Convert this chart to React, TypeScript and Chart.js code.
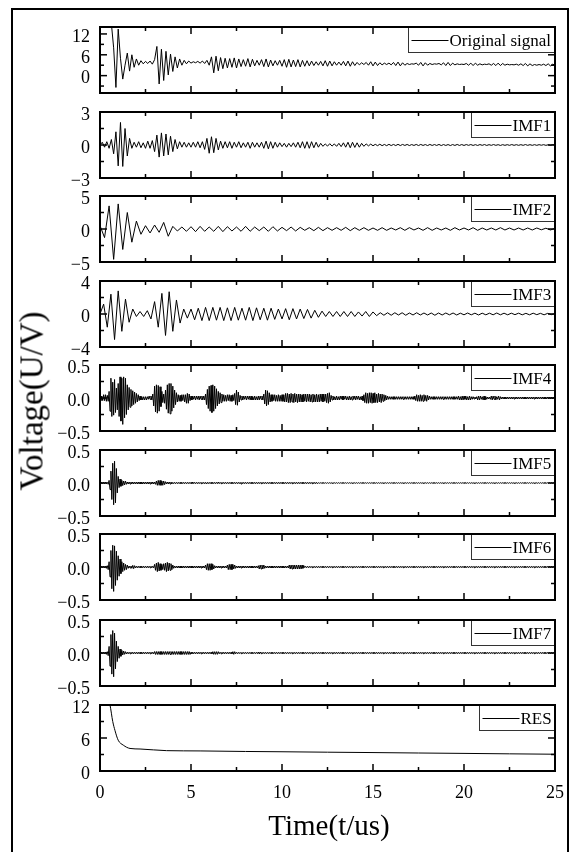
import React, { useEffect, useRef } from "react";
import { Chart, registerables } from "chart.js";

Chart.register(...registerables);

const FONT_FAMILY = "'Liberation Serif', 'Times New Roman', serif";

// ---------- data ----------
const T_END = 25; // us, length of the recorded window
const X_TICKS = [0, 5, 10, 15, 20, 25];
const X_MINOR_TICKS = [2.5, 7.5, 12.5, 17.5, 22.5];

// Original signal, sampled every 0.125 us
const ORIGINAL = [
  16, 16, 16, 16, 16, 15, 8, -3.4, 13.4, 5,
  -1, 3, 6.5, 1.3, 6, 2.4, 4.8, 3.0, 4.3, 3.4,
  4.1, 3.5, 4.2, 3.3, 4.6, 8.4, -2.4, 7.6, -1.4, 7.0,
  0.2, 6.2, 1.2, 5.4, 2.2, 4.8, 3.0, 4.4, 3.4, 4.2,
  3.6, 4.0, 3.7, 4.1, 3.6, 4.2, 3.5, 4.4, 3.0, 5.4,
  0.8, 5.6, 1.4, 5.2, 2.0, 5.0, 2.2, 4.9, 2.4, 5.1,
  2.2, 4.8, 2.6, 4.6, 2.7, 4.9, 2.5, 4.7, 2.8, 4.4,
  3.0, 4.6, 2.6, 4.8, 2.5, 4.5, 2.8, 4.3, 3.0, 4.4,
  2.7, 4.6, 2.4, 4.7, 2.5, 4.5, 2.6, 4.6, 2.5, 4.4,
  2.7, 4.3, 2.8, 4.2, 2.9, 4.0, 3.0, 4.1, 2.8, 4.3,
  2.7, 4.2, 2.8, 4.0, 3.0, 3.9, 3.0, 4.1, 2.8, 4.2,
  2.7, 4.0, 2.9, 3.8, 3.1, 3.7, 3.2, 3.8, 3.0, 4.0,
  2.8, 3.9, 2.9, 3.7, 3.1, 3.6, 3.2, 3.6, 3.1, 3.8,
  2.9, 3.9, 2.8, 3.7, 3.0, 3.5, 3.2, 3.4, 3.3, 3.6,
  3.0, 3.8, 2.8, 3.7, 3.0, 3.5, 3.2, 3.4, 3.3, 3.5,
  3.1, 3.7, 2.9, 3.8, 2.9, 3.6, 3.1, 3.4, 3.2, 3.3,
  3.2, 3.5, 3.0, 3.6, 2.9, 3.6, 3.0, 3.4, 3.1, 3.3,
  3.2, 3.4, 3.0, 3.5, 2.9, 3.6, 2.9, 3.5, 3.0, 3.3,
  3.1, 3.2, 3.1, 3.3, 3.0, 3.4, 2.9, 3.5, 2.8, 3.4,
  2.9, 3.2, 3.0, 3.2, 3.0, 3.3, 2.9, 3.4, 2.8, 3.3,
  3.0,
];

// IMF1, sampled every 0.125 us
const IMF1 = [
  0, 0.25, -0.2, 0.3, -0.3, 0.5, -0.8, 1.2, -1.9, 2.05,
  -1.95, 1.5, -1.0, 0.6, -0.3, 0.25, -0.2, 0.3, -0.25, 0.2,
  -0.3, 0.35, -0.3, 0.4, -0.6, 0.9, -1.1, 1.1, -1.0, 1.0,
  -0.9, 0.8, -0.6, 0.5, -0.35, 0.3, -0.2, 0.25, -0.2, 0.2,
  -0.2, 0.25, -0.2, 0.3, -0.25, 0.3, -0.4, 0.6, -0.75, 0.75,
  -0.7, 0.6, -0.45, 0.35, -0.3, 0.3, -0.25, 0.3, -0.3, 0.25,
  -0.2, 0.3, -0.25, 0.2, -0.2, 0.25, -0.3, 0.25, -0.2, 0.2,
  -0.2, 0.25, -0.3, 0.35, -0.35, 0.3, -0.3, 0.25, -0.2, 0.2,
  -0.15, 0.15, -0.2, 0.15, -0.15, 0.2, -0.2, 0.25, -0.25, 0.3,
  -0.3, 0.3, -0.3, 0.3, -0.25, 0.25, -0.2, 0.15, -0.12, 0.1,
  -0.1, 0.12, -0.1, 0.1, -0.12, 0.15, -0.15, 0.2, -0.2, 0.25,
  -0.25, 0.25, -0.22, 0.2, -0.2, 0.15, -0.12, 0.1, -0.08, 0.08,
  -0.07, 0.06, -0.06, 0.07, -0.06, 0.05, -0.06, 0.06, -0.05, 0.05,
  -0.05, 0.06, -0.05, 0.05, -0.04, 0.05, -0.05, 0.04, -0.04, 0.05,
  -0.05, 0.05, -0.04, 0.04, -0.05, 0.05, -0.04, 0.04, -0.04, 0.05,
  -0.05, 0.04, -0.04, 0.04, -0.05, 0.04, -0.04, 0.05, -0.04, 0.04,
  -0.04, 0.04, -0.03, 0.04, -0.04, 0.03, -0.04, 0.04, -0.03, 0.04,
  -0.04, 0.03, -0.03, 0.04, -0.03, 0.03, -0.04, 0.03, -0.03, 0.03,
  -0.03, 0.04, -0.03, 0.03, -0.03, 0.03, -0.03, 0.04, -0.03, 0.03,
  -0.03, 0.03, -0.03, 0.03, -0.02, 0.03, -0.03, 0.02, -0.03, 0.03,
  0,
];

// IMF2, sampled every 0.25 us
const IMF2 = [
  0.5, -1.3, 3.5, -4.6, 3.8, -3.1, 2.5, -2.0, 1.2, -0.8,
  0.5, -0.6, 0.6, -0.5, 1.0, -1.1, 0.4, -0.3, 0.3, -0.35,
  0.35, -0.4, 0.4, -0.35, 0.3, -0.35, 0.4, -0.4, 0.35, -0.3,
  0.3, -0.35, 0.4, -0.35, 0.3, -0.25, 0.3, -0.35, 0.35, -0.3,
  0.25, -0.25, 0.3, -0.3, 0.25, -0.2, 0.2, -0.25, 0.25, -0.25,
  0.2, -0.2, 0.2, -0.2, 0.25, -0.25, 0.2, -0.2, 0.2, -0.2,
  0.15, -0.2, 0.2, -0.2, 0.15, -0.15, 0.2, -0.2, 0.2, -0.15,
  0.15, -0.2, 0.2, -0.2, 0.15, -0.15, 0.15, -0.2, 0.2, -0.15,
  0.15, -0.15, 0.2, -0.2, 0.15, -0.15, 0.15, -0.15, 0.2, -0.15,
  0.15, -0.15, 0.15, -0.15, 0.15, -0.15, 0.15, -0.12, 0.12, -0.15,
  0.1,
];

// IMF3, sampled every 0.2 us
const IMF3 = [
  0, 1.2, -1.6, 2.4, -3.1, 2.8, -2.1, 1.8, -1.0, 0.6,
  -0.3, 0.3, -0.3, 0.4, -0.6, 1.5, -1.6, 2.5, -2.6, 2.7,
  -2.1, 1.7, -1.1, 0.6, -0.5, 0.6, -0.7, 0.7, -0.8, 0.8,
  -0.8, 0.8, -0.75, 0.8, -0.8, 0.75, -0.8, 0.8, -0.75, 0.7,
  -0.75, 0.8, -0.8, 0.75, -0.7, 0.7, -0.75, 0.7, -0.65, 0.6,
  -0.6, 0.65, -0.7, 0.65, -0.6, 0.6, -0.55, 0.55, -0.5, 0.45,
  -0.4, 0.35, -0.3, 0.3, -0.3, 0.3, -0.3, 0.3, -0.3, 0.3,
  -0.3, 0.25, -0.25, 0.3, -0.3, 0.25, -0.2, 0.15, -0.15, 0.15,
  -0.15, 0.15, -0.12, 0.15, -0.15, 0.12, -0.12, 0.15, -0.12, 0.12,
  -0.12, 0.12, -0.15, 0.12, -0.12, 0.12, -0.1, 0.12, -0.12, 0.1,
  -0.1, 0.12, -0.1, 0.1, -0.12, 0.1, -0.1, 0.1, -0.1, 0.12,
  -0.1, 0.1, -0.1, 0.1, -0.08, 0.1, -0.1, 0.08, -0.1, 0.1,
  -0.08, 0.08, -0.1, 0.08, -0.08, 0.05,
];

// IMF4, sampled every 0.05 us
const IMF4 = [
  0.03, -0.04, 0.03, -0.04, 0.05, -0.04, 0.05, -0.05, 0.04, -0.05,
  0.1, -0.2, 0.3, -0.28, 0.24, -0.26, 0.28, -0.22, 0.15, -0.18,
  0.22, -0.28, 0.32, -0.35, 0.3, -0.4, 0.32, -0.3, 0.3, -0.25,
  0.2, -0.18, 0.16, -0.14, 0.13, -0.12, 0.11, -0.1, 0.09, -0.08,
  0.07, -0.06, 0.05, -0.04, 0.03, -0.03, 0.02, -0.03, 0.02, -0.03,
  0.02, -0.03, 0.02, -0.02, 0.03, -0.02, 0.03, -0.03, 0.06, -0.12,
  0.18, -0.21, 0.2, -0.23, 0.19, -0.2, 0.17, -0.13, 0.1, -0.07,
  0.06, -0.08, 0.12, -0.17, 0.2, -0.23, 0.22, -0.24, 0.22, -0.2,
  0.18, -0.15, 0.12, -0.1, 0.08, -0.06, 0.05, -0.05, 0.04, -0.05,
  0.05, -0.04, 0.05, -0.06, 0.05, -0.08, 0.07, -0.08, 0.06, -0.04,
  0.03, -0.03, 0.03, -0.02, 0.03, -0.03, 0.03, -0.02, 0.03, -0.03,
  0.03, -0.02, 0.03, -0.03, 0.03, -0.03, 0.06, -0.1, 0.13, -0.16,
  0.18, -0.2, 0.19, -0.22, 0.2, -0.2, 0.18, -0.16, 0.14, -0.12,
  0.1, -0.09, 0.08, -0.07, 0.06, -0.05, 0.05, -0.05, 0.04, -0.05,
  0.05, -0.04, 0.05, -0.05, 0.04, -0.05, 0.05, -0.04, 0.07, -0.1,
  0.12, -0.11, 0.09, -0.06, 0.04, -0.03, 0.03, -0.03, 0.03, -0.02,
  0.03, -0.03, 0.03, -0.02, 0.03, -0.03, 0.03, -0.03, 0.02, -0.03,
  0.03, -0.03, 0.02, -0.03, 0.03, -0.03, 0.03, -0.02, 0.03, -0.03,
  0.06, -0.09, 0.12, -0.12, 0.11, -0.1, 0.08, -0.06, 0.05, -0.05,
  0.05, -0.04, 0.05, -0.05, 0.04, -0.05, 0.05, -0.05, 0.04, -0.05,
  0.05, -0.05, 0.05, -0.06, 0.07, -0.06, 0.07, -0.07, 0.06, -0.07,
  0.07, -0.06, 0.06, -0.07, 0.07, -0.06, 0.06, -0.07, 0.06, -0.06,
  0.06, -0.06, 0.05, -0.06, 0.06, -0.05, 0.06, -0.06, 0.06, -0.05,
  0.06, -0.06, 0.05, -0.06, 0.06, -0.06, 0.05, -0.06, 0.06, -0.06,
  0.05, -0.06, 0.06, -0.05, 0.06, -0.06, 0.06, -0.05, 0.06, -0.07,
  0.07, -0.08, 0.08, -0.06, 0.04, -0.03, 0.03, -0.03, 0.02, -0.03,
  0.03, -0.03, 0.02, -0.03, 0.03, -0.02, 0.03, -0.03, 0.03, -0.02,
  0.03, -0.03, 0.02, -0.03, 0.03, -0.03, 0.02, -0.03, 0.03, -0.02,
  0.03, -0.03, 0.03, -0.02, 0.03, -0.03, 0.02, -0.03, 0.03, -0.04,
  0.05, -0.07, 0.08, -0.08, 0.07, -0.08, 0.08, -0.07, 0.08, -0.08,
  0.07, -0.07, 0.08, -0.07, 0.06, -0.07, 0.07, -0.06, 0.06, -0.07,
  0.06, -0.05, 0.05, -0.04, 0.04, -0.03, 0.03, -0.02, 0.02, -0.02,
  0.02, -0.02, 0.02, -0.02, 0.02, -0.02, 0.02, -0.02, 0.02, -0.02,
  0.02, -0.02, 0.02, -0.02, 0.02, -0.02, 0.02, -0.02, 0.02, -0.02,
  0.02, -0.02, 0.02, -0.02, 0.02, -0.02, 0.03, -0.04, 0.05, -0.05,
  0.04, -0.05, 0.05, -0.05, 0.04, -0.05, 0.05, -0.04, 0.04, -0.05,
  0.04, -0.03, 0.03, -0.02, 0.02, -0.02, 0.02, -0.02, 0.02, -0.02,
  0.02, -0.02, 0.02, -0.02, 0.02, -0.02, 0.02, -0.02, 0.02, -0.02,
  0.02, -0.02, 0.02, -0.02, 0.02, -0.02, 0.02, -0.02, 0.02, -0.02,
  0.02, -0.02, 0.02, -0.02, 0.03, -0.03, 0.02, -0.03, 0.03, -0.03,
  0.03, -0.02, 0.03, -0.03, 0.02, -0.03, 0.03, -0.03, 0.02, -0.02,
  0.02, -0.015, 0.015, -0.015, 0.02, -0.03, 0.03, -0.03, 0.03, -0.02,
  0.02, -0.03, 0.03, -0.03, 0.02, -0.02, 0.015, -0.015, 0.015, -0.02,
  0.03, -0.03, 0.03, -0.02, 0.03, -0.03, 0.02, -0.02, 0.03, -0.03,
  0.02, -0.015, 0.015, -0.015, 0.015, -0.015, 0.015, -0.015, 0.015, -0.015,
  0.015, -0.015, 0.015, -0.015, 0.015, -0.015, 0.015, -0.015, 0.015, -0.015,
  0.015, -0.015, 0.015, -0.015, 0.015, -0.015, 0.015, -0.015, 0.015, -0.015,
  0.015, -0.015, 0.015, -0.015, 0.015, -0.015, 0.015, -0.015, 0.015, -0.015,
  0.015, -0.015, 0.015, -0.015, 0.015, -0.015, 0.015, -0.015, 0.015, -0.015,
  0.015, -0.015, 0.015, -0.015, 0.015, -0.015, 0.015, -0.015, 0.015, -0.015,
  0.01,
];

// IMF5, sampled every 0.05 us
const IMF5 = [
  0.01, -0.01, 0.01, -0.01, 0.01, -0.01, 0.01, -0.01, 0.01, -0.02,
  0.04, -0.1, 0.18, -0.25, 0.3, -0.33, 0.33, -0.3, 0.22, -0.15,
  0.1, -0.07, 0.06, -0.05, 0.04, -0.04, 0.03, -0.03, 0.03, -0.02,
  0.015, -0.015, 0.015, -0.015, 0.015, -0.015, 0.015, -0.015, 0.015, -0.015,
  0.015, -0.015, 0.015, -0.015, 0.015, -0.015, 0.015, -0.015, 0.015, -0.015,
  0.015, -0.015, 0.015, -0.015, 0.015, -0.015, 0.015, -0.015, 0.015, -0.015,
  0.015, -0.02, 0.03, -0.035, 0.04, -0.035, 0.04, -0.035, 0.03, -0.035,
  0.03, -0.025, 0.02, -0.015, 0.015, -0.015, 0.015, -0.015, 0.015, -0.015,
  0.01, -0.01, 0.01, -0.01, 0.01, -0.01, 0.01, -0.01, 0.01, -0.01,
  0.01, -0.01, 0.01, -0.01, 0.01, -0.01, 0.01, -0.01, 0.01, -0.01,
  0.01, -0.01, 0.015, -0.01, 0.01, -0.01, 0.01, -0.01, 0.01, -0.01,
  0.01, -0.01, 0.01, -0.01, 0.01, -0.01, 0.01, -0.015, 0.01, -0.01,
  0.01, -0.01, 0.01, -0.01, 0.01, -0.01, 0.01, -0.01, 0.01, -0.01,
  0.015, -0.01, 0.01, -0.01, 0.01, -0.01, 0.01, -0.01, 0.01, -0.01,
  0.01, -0.01, 0.01, -0.01, 0.01, -0.01, 0.01, -0.01, 0.01, -0.01,
  0.01, -0.01, 0.01, -0.01, 0.01, -0.015, 0.01, -0.01, 0.01, -0.01,
  0.01, -0.01, 0.01, -0.01, 0.01, -0.01, 0.01, -0.01, 0.01, -0.01,
  0.01, -0.01, 0.01, -0.01, 0.01, -0.01, 0.01, -0.01, 0.01, -0.01,
  0.01, -0.01, 0.01, -0.01, 0.01, -0.01, 0.01, -0.01, 0.01, -0.01,
  0.01, -0.01, 0.01, -0.01, 0.01, -0.01, 0.01, -0.01, 0.01, -0.01,
  0.01, -0.01, 0.01, -0.01, 0.01, -0.01, 0.01, -0.01, 0.01, -0.01,
  0.01, -0.01, 0.01, -0.01, 0.01, -0.01, 0.01, -0.01, 0.01, -0.01,
  0.01, -0.01, 0.01, -0.01, 0.01, -0.01, 0.01, -0.01, 0.01, -0.01,
  0.01, -0.01, 0.01, -0.01, 0.01, -0.01, 0.01, -0.01, 0.01, -0.01,
  0.005, -0.005, 0.005, -0.005, 0.005, -0.005, 0.005, -0.005, 0.005, -0.005,
  0.005, -0.005, 0.005, -0.005, 0.005, -0.005, 0.005, -0.005, 0.005, -0.005,
  0.005, -0.005, 0.005, -0.005, 0.005, -0.005, 0.005, -0.005, 0.005, -0.005,
  0.005, -0.005, 0.005, -0.005, 0.005, -0.005, 0.005, -0.005, 0.005, -0.005,
  0.005, -0.005, 0.005, -0.005, 0.005, -0.005, 0.005, -0.005, 0.005, -0.005,
  0.005, -0.005, 0.005, -0.005, 0.005, -0.005, 0.005, -0.005, 0.005, -0.005,
  0.005, -0.005, 0.005, -0.005, 0.005, -0.005, 0.005, -0.005, 0.005, -0.005,
  0.005, -0.005, 0.005, -0.005, 0.005, -0.005, 0.005, -0.005, 0.005, -0.005,
  0.005, -0.005, 0.005, -0.005, 0.005, -0.005, 0.005, -0.005, 0.005, -0.005,
  0.005, -0.005, 0.005, -0.005, 0.005, -0.005, 0.005, -0.005, 0.005, -0.005,
  0.005, -0.005, 0.005, -0.005, 0.005, -0.005, 0.005, -0.005, 0.005, -0.005,
  0.005, -0.005, 0.005, -0.005, 0.005, -0.005, 0.005, -0.005, 0.005, -0.005,
  0.005, -0.005, 0.005, -0.005, 0.005, -0.005, 0.005, -0.005, 0.005, -0.005,
  0.005, -0.005, 0.005, -0.005, 0.005, -0.005, 0.005, -0.005, 0.005, -0.005,
  0.005, -0.005, 0.005, -0.005, 0.005, -0.005, 0.005, -0.005, 0.005, -0.005,
  0.005, -0.005, 0.005, -0.005, 0.005, -0.005, 0.005, -0.005, 0.005, -0.005,
  0.005, -0.005, 0.005, -0.005, 0.005, -0.005, 0.005, -0.005, 0.005, -0.005,
  0.005, -0.005, 0.005, -0.005, 0.005, -0.005, 0.005, -0.005, 0.005, -0.005,
  0.005, -0.005, 0.005, -0.005, 0.005, -0.005, 0.005, -0.005, 0.005, -0.005,
  0.005, -0.005, 0.005, -0.005, 0.005, -0.005, 0.005, -0.005, 0.005, -0.005,
  0.005, -0.005, 0.005, -0.005, 0.005, -0.005, 0.005, -0.005, 0.005, -0.005,
  0.005, -0.005, 0.005, -0.005, 0.005, -0.005, 0.005, -0.005, 0.005, -0.005,
  0.005, -0.005, 0.005, -0.005, 0.005, -0.005, 0.005, -0.005, 0.005, -0.005,
  0.005, -0.005, 0.005, -0.005, 0.005, -0.005, 0.005, -0.005, 0.005, -0.005,
  0.005, -0.005, 0.005, -0.005, 0.005, -0.005, 0.005, -0.005, 0.005, -0.005,
  0.005, -0.005, 0.005, -0.005, 0.005, -0.005, 0.005, -0.005, 0.005, -0.005,
  0,
];

// IMF6, sampled every 0.05 us
const IMF6 = [
  0.01, -0.01, 0.01, -0.01, 0.01, -0.01, 0.01, -0.02, 0.02, -0.04,
  0.08, -0.15, 0.25, -0.33, 0.33, -0.37, 0.32, -0.28, 0.24, -0.2,
  0.17, -0.14, 0.12, -0.1, 0.08, -0.07, 0.06, -0.05, 0.04, -0.04,
  0.03, -0.02, 0.015, -0.015, 0.015, -0.02, 0.025, -0.025, 0.02, -0.015,
  0.012, -0.012, 0.012, -0.012, 0.012, -0.012, 0.012, -0.012, 0.012, -0.012,
  0.012, -0.012, 0.012, -0.012, 0.012, -0.012, 0.012, -0.012, 0.012, -0.012,
  0.04, -0.05, 0.06, -0.07, 0.07, -0.06, 0.05, -0.05, 0.04, -0.04,
  0.05, -0.05, 0.06, -0.07, 0.07, -0.06, 0.06, -0.05, 0.05, -0.04,
  0.03, -0.02, 0.015, -0.015, 0.015, -0.015, 0.015, -0.015, 0.015, -0.015,
  0.015, -0.015, 0.015, -0.015, 0.015, -0.015, 0.015, -0.015, 0.015, -0.015,
  0.015, -0.015, 0.015, -0.015, 0.015, -0.015, 0.015, -0.015, 0.015, -0.015,
  0.015, -0.015, 0.015, -0.015, 0.015, -0.015, 0.03, -0.04, 0.05, -0.05,
  0.05, -0.05, 0.05, -0.04, 0.04, -0.03, 0.02, -0.015, 0.015, -0.015,
  0.015, -0.015, 0.015, -0.015, 0.015, -0.015, 0.015, -0.015, 0.015, -0.015,
  0.03, -0.04, 0.04, -0.04, 0.04, -0.04, 0.04, -0.03, 0.03, -0.02,
  0.015, -0.015, 0.015, -0.015, 0.015, -0.015, 0.015, -0.015, 0.015, -0.015,
  0.015, -0.015, 0.015, -0.015, 0.015, -0.015, 0.015, -0.015, 0.015, -0.015,
  0.015, -0.015, 0.015, -0.015, 0.02, -0.03, 0.03, -0.03, 0.03, -0.03,
  0.03, -0.02, 0.015, -0.015, 0.015, -0.015, 0.015, -0.015, 0.015, -0.015,
  0.015, -0.015, 0.015, -0.015, 0.015, -0.015, 0.015, -0.015, 0.015, -0.015,
  0.015, -0.015, 0.015, -0.015, 0.015, -0.015, 0.015, -0.015, 0.03, -0.03,
  0.03, -0.03, 0.03, -0.03, 0.03, -0.03, 0.03, -0.03, 0.03, -0.03,
  0.03, -0.03, 0.03, -0.02, 0.02, -0.01, 0.01, -0.01, 0.01, -0.01,
  0.01, -0.01, 0.01, -0.01, 0.01, -0.01, 0.01, -0.01, 0.01, -0.01,
  0.01, -0.01, 0.01, -0.01, 0.01, -0.01, 0.01, -0.01, 0.01, -0.01,
  0.01, -0.01, 0.01, -0.01, 0.01, -0.01, 0.01, -0.01, 0.01, -0.01,
  0.01, -0.01, 0.01, -0.01, 0.01, -0.01, 0.01, -0.01, 0.01, -0.01,
  0.01, -0.01, 0.01, -0.01, 0.01, -0.01, 0.01, -0.01, 0.01, -0.01,
  0.01, -0.01, 0.01, -0.01, 0.01, -0.01, 0.01, -0.01, 0.01, -0.01,
  0.01, -0.01, 0.01, -0.01, 0.01, -0.01, 0.01, -0.01, 0.01, -0.01,
  0.01, -0.01, 0.01, -0.01, 0.01, -0.01, 0.01, -0.01, 0.01, -0.01,
  0.01, -0.01, 0.01, -0.01, 0.01, -0.01, 0.01, -0.01, 0.01, -0.01,
  0.01, -0.01, 0.01, -0.01, 0.01, -0.01, 0.01, -0.01, 0.01, -0.01,
  0.01, -0.01, 0.01, -0.01, 0.01, -0.01, 0.01, -0.01, 0.01, -0.01,
  0.01, -0.01, 0.01, -0.01, 0.01, -0.01, 0.01, -0.01, 0.01, -0.01,
  0.01, -0.01, 0.01, -0.01, 0.01, -0.01, 0.01, -0.01, 0.01, -0.01,
  0.01, -0.01, 0.01, -0.01, 0.01, -0.01, 0.01, -0.01, 0.01, -0.01,
  0.01, -0.01, 0.01, -0.01, 0.01, -0.01, 0.01, -0.01, 0.01, -0.01,
  0.01, -0.01, 0.01, -0.01, 0.01, -0.01, 0.01, -0.01, 0.01, -0.01,
  0.01, -0.01, 0.01, -0.01, 0.01, -0.01, 0.01, -0.01, 0.01, -0.01,
  0.01, -0.01, 0.01, -0.01, 0.01, -0.01, 0.01, -0.01, 0.01, -0.01,
  0.01, -0.01, 0.01, -0.01, 0.01, -0.01, 0.01, -0.01, 0.01, -0.01,
  0.01, -0.01, 0.01, -0.01, 0.01, -0.01, 0.01, -0.01, 0.01, -0.01,
  0.01, -0.01, 0.01, -0.01, 0.01, -0.01, 0.01, -0.01, 0.01, -0.01,
  0.01, -0.01, 0.01, -0.01, 0.01, -0.01, 0.01, -0.01, 0.01, -0.01,
  0.01, -0.01, 0.01, -0.01, 0.01, -0.01, 0.01, -0.01, 0.01, -0.01,
  0.01, -0.01, 0.01, -0.01, 0.01, -0.01, 0.01, -0.01, 0.01, -0.01,
  0.01, -0.01, 0.01, -0.01, 0.01, -0.01, 0.01, -0.01, 0.01, -0.01,
  0.01, -0.01, 0.01, -0.01, 0.01, -0.01, 0.01, -0.01, 0.01, -0.01,
  0.01, -0.01, 0.01, -0.01, 0.01, -0.01, 0.01, -0.01, 0.01, -0.01,
  0,
];

// IMF7, sampled every 0.05 us
const IMF7 = [
  0.01, -0.01, 0.01, -0.01, 0.01, -0.01, 0.01, -0.02, 0.02, -0.04,
  0.1, -0.2, 0.28, -0.32, 0.34, -0.36, 0.3, -0.24, 0.18, -0.13,
  0.1, -0.08, 0.06, -0.05, 0.04, -0.03, 0.03, -0.02, 0.02, -0.015,
  0.012, -0.012, 0.012, -0.012, 0.012, -0.012, 0.012, -0.012, 0.012, -0.012,
  0.012, -0.012, 0.012, -0.012, 0.012, -0.012, 0.012, -0.012, 0.012, -0.012,
  0.012, -0.012, 0.012, -0.012, 0.012, -0.012, 0.012, -0.012, 0.012, -0.012,
  0.022, -0.022, 0.022, -0.022, 0.022, -0.022, 0.022, -0.022, 0.022, -0.022,
  0.022, -0.022, 0.022, -0.022, 0.022, -0.022, 0.022, -0.022, 0.022, -0.022,
  0.022, -0.022, 0.022, -0.022, 0.022, -0.022, 0.022, -0.022, 0.022, -0.022,
  0.022, -0.022, 0.022, -0.022, 0.022, -0.022, 0.022, -0.022, 0.022, -0.022,
  0.012, -0.012, 0.012, -0.012, 0.012, -0.012, 0.012, -0.012, 0.012, -0.012,
  0.012, -0.012, 0.012, -0.012, 0.012, -0.012, 0.012, -0.012, 0.012, -0.012,
  0.012, -0.012, 0.012, -0.012, 0.02, -0.02, 0.02, -0.02, 0.02, -0.02,
  0.02, -0.012, 0.012, -0.012, 0.012, -0.012, 0.012, -0.012, 0.012, -0.012,
  0.012, -0.012, 0.012, -0.012, 0.012, -0.012, 0.02, -0.02, 0.02, -0.012,
  0.01, -0.01, 0.01, -0.01, 0.01, -0.01, 0.01, -0.01, 0.01, -0.01,
  0.01, -0.01, 0.01, -0.01, 0.01, -0.01, 0.01, -0.01, 0.01, -0.01,
  0.01, -0.01, 0.01, -0.01, 0.015, -0.015, 0.015, -0.01, 0.01, -0.01,
  0.01, -0.01, 0.01, -0.01, 0.01, -0.01, 0.01, -0.01, 0.01, -0.01,
  0.01, -0.01, 0.01, -0.01, 0.01, -0.01, 0.01, -0.01, 0.01, -0.01,
  0.01, -0.01, 0.01, -0.01, 0.01, -0.01, 0.01, -0.01, 0.01, -0.01,
  0.01, -0.01, 0.01, -0.01, 0.01, -0.01, 0.01, -0.01, 0.01, -0.01,
  0.01, -0.01, 0.01, -0.01, 0.01, -0.01, 0.01, -0.01, 0.01, -0.01,
  0.01, -0.01, 0.01, -0.01, 0.01, -0.01, 0.01, -0.01, 0.01, -0.01,
  0.01, -0.01, 0.01, -0.01, 0.01, -0.01, 0.01, -0.01, 0.01, -0.01,
  0.01, -0.01, 0.01, -0.01, 0.01, -0.01, 0.01, -0.01, 0.01, -0.01,
  0.01, -0.01, 0.01, -0.01, 0.01, -0.01, 0.01, -0.01, 0.01, -0.01,
  0.01, -0.01, 0.01, -0.01, 0.01, -0.01, 0.01, -0.01, 0.01, -0.01,
  0.01, -0.01, 0.01, -0.01, 0.01, -0.01, 0.01, -0.01, 0.01, -0.01,
  0.01, -0.01, 0.01, -0.01, 0.01, -0.01, 0.01, -0.01, 0.01, -0.01,
  0.01, -0.01, 0.01, -0.01, 0.01, -0.01, 0.01, -0.01, 0.01, -0.01,
  0.01, -0.01, 0.01, -0.01, 0.01, -0.01, 0.01, -0.01, 0.01, -0.01,
  0.01, -0.01, 0.01, -0.01, 0.01, -0.01, 0.01, -0.01, 0.01, -0.01,
  0.01, -0.01, 0.01, -0.01, 0.01, -0.01, 0.01, -0.01, 0.01, -0.01,
  0.01, -0.01, 0.01, -0.01, 0.01, -0.01, 0.01, -0.01, 0.01, -0.01,
  0.01, -0.01, 0.01, -0.01, 0.01, -0.01, 0.01, -0.01, 0.01, -0.01,
  0.01, -0.01, 0.01, -0.01, 0.01, -0.01, 0.01, -0.01, 0.01, -0.01,
  0.01, -0.01, 0.01, -0.01, 0.01, -0.01, 0.01, -0.01, 0.01, -0.01,
  0.01, -0.01, 0.01, -0.01, 0.01, -0.01, 0.01, -0.01, 0.01, -0.01,
  0.01, -0.01, 0.01, -0.01, 0.01, -0.01, 0.01, -0.01, 0.01, -0.01,
  0.01, -0.01, 0.01, -0.01, 0.01, -0.01, 0.01, -0.01, 0.01, -0.01,
  0.01, -0.01, 0.01, -0.01, 0.01, -0.01, 0.01, -0.01, 0.01, -0.01,
  0.01, -0.01, 0.01, -0.01, 0.01, -0.01, 0.01, -0.01, 0.01, -0.01,
  0.01, -0.01, 0.01, -0.01, 0.01, -0.01, 0.01, -0.01, 0.01, -0.01,
  0.01, -0.01, 0.01, -0.01, 0.01, -0.01, 0.01, -0.01, 0.01, -0.01,
  0.01, -0.01, 0.01, -0.01, 0.01, -0.01, 0.01, -0.01, 0.01, -0.01,
  0.01, -0.01, 0.01, -0.01, 0.01, -0.01, 0.01, -0.01, 0.01, -0.01,
  0.01, -0.01, 0.01, -0.01, 0.01, -0.01, 0.01, -0.01, 0.01, -0.01,
  0.01, -0.01, 0.01, -0.01, 0.01, -0.01, 0.01, -0.01, 0.01, -0.01,
  0.01, -0.01, 0.01, -0.01, 0.01, -0.01, 0.01, -0.01, 0.01, -0.01,
  0,
];

const RES_TIMES = [0, 0.3, 0.55, 0.7, 0.82, 1.0, 1.28, 1.65, 2.2, 3.66, 5.5, 8, 10, 12.5, 15, 17.5, 20, 22.5, 25];
const RES_VALUES = [18, 15, 12, 9, 7.4, 5.6, 4.7, 4.1, 4.0, 3.7, 3.65, 3.55, 3.5, 3.42, 3.35, 3.27, 3.2, 3.12, 3.05];

// y-axis ticks and labels per panel
const TICKS_SIGNAL = [0, 6, 12];
const LABELS_SIGNAL = ["0", "6", "12"];
const MINOR_SIGNAL = [-3, 3, 9];
const TICKS_IMF1 = [-3, 0, 3];
const LABELS_IMF1 = ["\u22123", "0", "3"];
const TICKS_IMF2 = [-5, 0, 5];
const LABELS_IMF2 = ["\u22125", "0", "5"];
const TICKS_IMF3 = [-4, 0, 4];
const LABELS_IMF3 = ["\u22124", "0", "4"];
const TICKS_SMALL = [-0.5, 0, 0.5];
const LABELS_SMALL = ["\u22120.5", "0.0", "0.5"];
const TICKS_RES = [0, 6, 12];
const LABELS_RES = ["0", "6", "12"];

type PanelCfg = {
  name: string;
  values: number[];
  times?: number[];
  min: number;
  max: number;
  ticks: number[];
  labels: string[];
  minor: number[];
  smooth?: boolean;
};

const PANELS: PanelCfg[] = [
  { name: "Original signal", values: ORIGINAL, min: -5, max: 14, ticks: TICKS_SIGNAL, labels: LABELS_SIGNAL, minor: MINOR_SIGNAL },
  { name: "IMF1", values: IMF1, min: -3, max: 3, ticks: TICKS_IMF1, labels: LABELS_IMF1, minor: [-1.5, 1.5] },
  { name: "IMF2", values: IMF2, min: -5, max: 5, ticks: TICKS_IMF2, labels: LABELS_IMF2, minor: [-2.5, 2.5] },
  { name: "IMF3", values: IMF3, min: -4, max: 4, ticks: TICKS_IMF3, labels: LABELS_IMF3, minor: [-2, 2] },
  { name: "IMF4", values: IMF4, min: -0.5, max: 0.5, ticks: TICKS_SMALL, labels: LABELS_SMALL, minor: [-0.25, 0.25] },
  { name: "IMF5", values: IMF5, min: -0.5, max: 0.5, ticks: TICKS_SMALL, labels: LABELS_SMALL, minor: [-0.25, 0.25] },
  { name: "IMF6", values: IMF6, min: -0.5, max: 0.5, ticks: TICKS_SMALL, labels: LABELS_SMALL, minor: [-0.25, 0.25] },
  { name: "IMF7", values: IMF7, min: -0.5, max: 0.5, ticks: TICKS_SMALL, labels: LABELS_SMALL, minor: [-0.25, 0.25] },
  { name: "RES", values: RES_VALUES, times: RES_TIMES, min: 0, max: 12, ticks: TICKS_RES, labels: LABELS_RES, minor: [3, 9], smooth: true },
];

// ---------- layout ----------
const CANVAS_W = 571;
const PLOT_RIGHT_GAP = 16;
const Y_AXIS_W = 100;
const PLOT_H = 66;
const PAD = 14;
const LAST_EXTRA = 44;
const PANEL_TOPS = [27, 112, 196, 281, 365, 450, 534, 620, 705];
const MAJOR_LEN = 7;
const MINOR_LEN = 4;

function Panel({ cfg, top, last }: { cfg: PanelCfg; top: number; last: boolean }) {
  const ref = useRef<HTMLCanvasElement | null>(null);
  const h = PAD + PLOT_H + (last ? LAST_EXTRA : PAD);

  useEffect(() => {
    const n = cfg.values.length;
    const points = cfg.values.map((v, k) => ({
      x: cfg.times ? cfg.times[k] : (k * T_END) / (n - 1),
      y: v,
    }));

    const decor = {
      id: "panelDecor",
      afterDraw(chart: any) {
        const { ctx, chartArea: a, scales } = chart;
        const xs = scales.x;
        const ys = scales.y;
        ctx.save();
        const seg = (x1: number, y1: number, x2: number, y2: number) => {
          ctx.beginPath();
          ctx.moveTo(x1, y1);
          ctx.lineTo(x2, y2);
          ctx.stroke();
        };
        ctx.strokeStyle = "#000";
        ctx.lineWidth = 1.5;
        for (const v of X_TICKS) {
          const p = xs.getPixelForValue(v);
          seg(p, a.bottom, p, a.bottom - MAJOR_LEN);
          seg(p, a.top, p, a.top + MAJOR_LEN);
        }
        for (const v of X_MINOR_TICKS) {
          const p = xs.getPixelForValue(v);
          seg(p, a.bottom, p, a.bottom - MINOR_LEN);
          seg(p, a.top, p, a.top + MINOR_LEN);
        }
        for (const v of cfg.ticks) {
          const p = ys.getPixelForValue(v);
          seg(a.left, p, a.left + MAJOR_LEN, p);
          seg(a.right, p, a.right - MAJOR_LEN, p);
        }
        for (const v of cfg.minor) {
          const p = ys.getPixelForValue(v);
          seg(a.left, p, a.left + MINOR_LEN, p);
          seg(a.right, p, a.right - MINOR_LEN, p);
        }
        // legend box
        ctx.font = `17px ${FONT_FAMILY}`;
        const tw = ctx.measureText(cfg.name).width;
        const bw = Math.round(3 + 37 + 1 + tw + 3);
        const bh = 25;
        const bx = Math.round(a.right - 1 - bw) + 0.5;
        const by = Math.round(a.top) + 0.5;
        ctx.fillStyle = "#fff";
        ctx.fillRect(bx, by, bw, bh);
        ctx.lineWidth = 1;
        ctx.strokeStyle = "#333";
        ctx.strokeRect(bx, by, bw, bh);
        ctx.strokeStyle = "#000";
        seg(bx + 3, by + 13, bx + 40, by + 13);
        ctx.fillStyle = "#000";
        ctx.textAlign = "left";
        ctx.textBaseline = "middle";
        ctx.fillText(cfg.name, bx + 41, by + 14);
        // frame
        ctx.lineWidth = 2;
        ctx.strokeStyle = "#000";
        ctx.strokeRect(a.left, a.top, a.right - a.left, a.bottom - a.top);
        ctx.restore();
      },
    };

    const font = { family: FONT_FAMILY, size: 18 };

    const chart = new Chart(ref.current as HTMLCanvasElement, {
      type: "line",
      data: {
        datasets: [
          {
            label: cfg.name,
            data: points,
            borderColor: "#000",
            borderWidth: 1,
            pointRadius: 0,
            fill: false,
            tension: 0,
            cubicInterpolationMode: cfg.smooth ? "monotone" : "default",
          } as any,
        ],
      },
      options: {
        responsive: false,
        animation: false,
        events: [],
        layout: { padding: { left: 0, right: PLOT_RIGHT_GAP, top: PAD, bottom: last ? 0 : PAD } },
        plugins: { legend: { display: false }, tooltip: { enabled: false } },
        scales: {
          x: {
            type: "linear",
            min: 0,
            max: T_END,
            afterBuildTicks: (s: any) => {
              s.ticks = X_TICKS.map((v) => ({ value: v }));
            },
            afterFit: (s: any) => {
              s.height = last ? LAST_EXTRA : 0;
              s.paddingLeft = 0;
              s.paddingRight = 0;
            },
            grid: { display: false, drawTicks: false },
            border: { display: false },
            ticks: {
              display: last,
              padding: 11,
              autoSkip: false,
              maxRotation: 0,
              color: "#000",
              font,
              callback: (v: any) => String(v),
            },
          },
          y: {
            type: "linear",
            min: cfg.min,
            max: cfg.max,
            afterBuildTicks: (s: any) => {
              s.ticks = cfg.ticks.map((v) => ({ value: v }));
            },
            afterFit: (s: any) => {
              s.width = Y_AXIS_W;
              s.paddingTop = 0;
              s.paddingBottom = 0;
            },
            grid: { display: false, drawTicks: false },
            border: { display: false },
            ticks: {
              padding: 10,
              labelOffset: 3,
              autoSkip: false,
              color: "#000",
              font,
              callback: (_v: any, i: number) => cfg.labels[i],
            },
          },
        },
      } as any,
      plugins: [decor],
    });
    return () => chart.destroy();
  }, [cfg, last]);

  return (
    <canvas
      ref={ref}
      width={CANVAS_W}
      height={h}
      style={{ position: "absolute", left: 0, top: top - PAD, width: CANVAS_W, height: h }}
    />
  );
}

export default function App() {
  return (
    <div
      style={{
        position: "fixed",
        left: 0,
        top: 0,
        width: 571,
        height: 852,
        background: "#fff",
        overflow: "hidden",
      }}
    >
      <div
        style={{
          position: "absolute",
          left: 11,
          top: 8,
          width: 558,
          height: 900,
          border: "2px solid #000",
          boxSizing: "border-box",
        }}
      />
      {PANELS.map((cfg, i) => (
        <Panel key={cfg.name} cfg={cfg} top={PANEL_TOPS[i]} last={i === PANELS.length - 1} />
      ))}
      <div
        style={{
          position: "absolute",
          left: 32,
          top: 401,
          transform: "translate(-50%, -50%) rotate(-90deg)",
          font: `33px ${FONT_FAMILY}`,
          lineHeight: 1,
          whiteSpace: "nowrap",
          color: "#000",
        }}
      >
        Voltage(U/V)
      </div>
      <div
        style={{
          position: "absolute",
          left: 329,
          top: 825,
          transform: "translate(-50%, -50%)",
          font: `29px ${FONT_FAMILY}`,
          lineHeight: 1,
          whiteSpace: "nowrap",
          color: "#000",
        }}
      >
        Time(t/us)
      </div>
    </div>
  );
}
